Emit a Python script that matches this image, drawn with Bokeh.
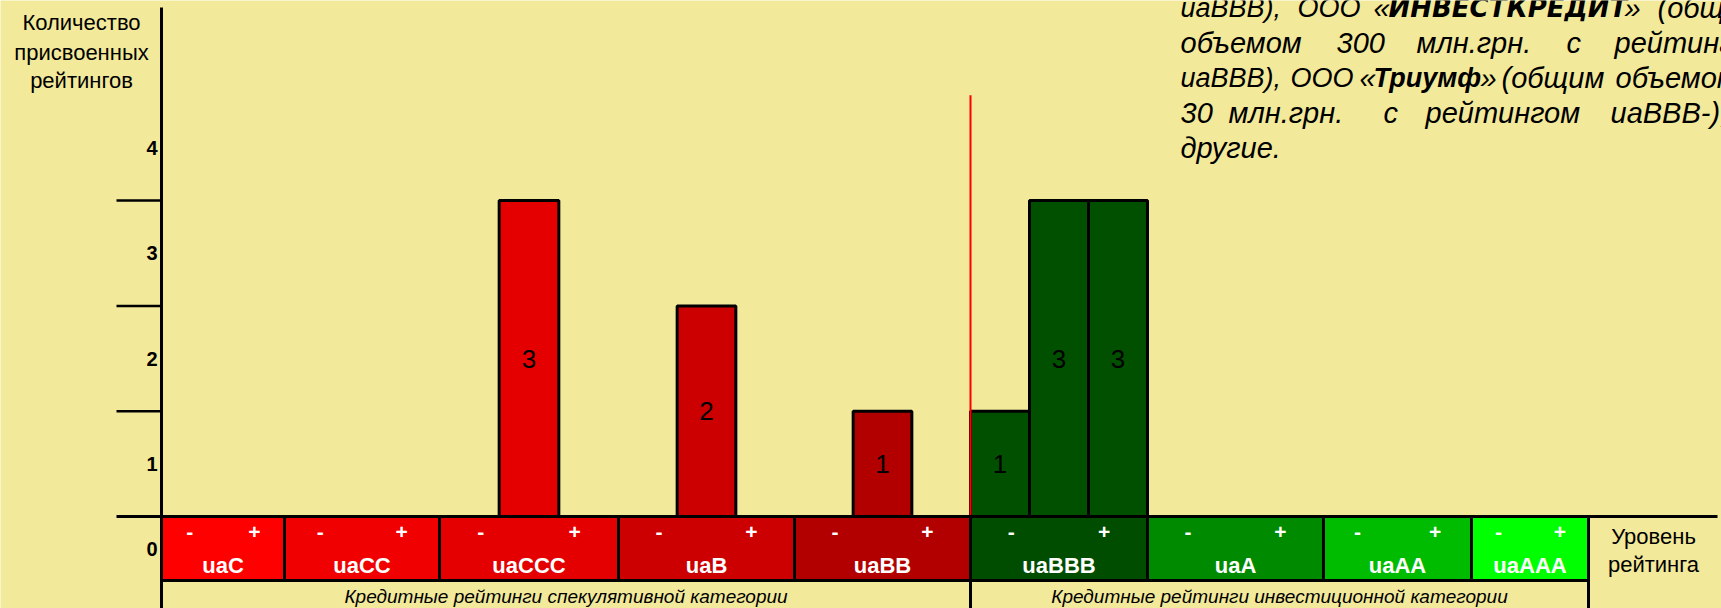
from bokeh.plotting import figure
from bokeh.models import ColumnDataSource, Range1d
from bokeh.core.properties import value
from bokeh.embed import file_html
from bokeh.resources import INLINE

# ---------------- data ----------------
ratings = ["uaC", "uaCC", "uaCCC", "uaB", "uaBB", "uaBBB", "uaA", "uaAA", "uaAAA"]
band_colors = ["#FF0000", "#F00000", "#E40000", "#CC0000", "#B20000",
               "#004D00", "#008A00", "#00BC00", "#00FF00"]
bar_ratings = ["uaCCC", "uaB", "uaBB", "uaBBB-", "uaBBB", "uaBBB+"]
bar_counts = [3, 2, 1, 1, 3, 3]
y_tick_labels = ["0", "1", "2", "3", "4"]
categories = ["Кредитные рейтинги спекулятивной категории",
              "Кредитные рейтинги инвестиционной категории"]
y_title = ["Количество", "присвоенных", "рейтингов"]
x_title = ["Уровень", "рейтинга"]
note_lines = [
    [("uaBBB),", False), ("ООО", False), ("«", False), ("ИНВЕСТКРЕДИТ", True), ("»", False), ("(общим", False)],
    [("объемом", False), ("300", False), ("млн.грн.", False), ("с", False), ("рейтингом", False)],
    [("uaBBB),", False), ("ООО", False), ("«", False), ("Триумф", True), ("»", False), ("(общим", False), ("объемом", False)],
    [("30", False), ("млн.грн.", False), ("с", False), ("рейтингом", False), ("uaBBB-),", False)],
    [("другие.", False)],
]

# ---------------- layout (page pixels) ----------------
W, H = 1721, 608
BG = "#F2E99A"
FONT = "Liberation Sans"
band_edges = [161, 284, 439, 618, 794, 970, 1147, 1323, 1471, 1588]
PX_ZERO, PX_UNIT = 516, 105.3
BAND_BOTTOM = 580
AXIS_X = 161
TICK_LEFT = 116
note_x = [
    [1180, 1297, 1373, 1388, 1624, 1657],
    [1180, 1336, 1416, 1566, 1614],
    [1180, 1290, 1359, 1373, 1480, 1501, 1615],
    [1180, 1228, 1383, 1425, 1610],
    [1180],
]
note_y = [7, 42, 77, 112, 147]
narrow_words = ("uaBBB),", "ООО")

p = figure(width=W, height=H, output_backend="svg", toolbar_location=None,
           x_range=Range1d(0, W),
           y_range=Range1d((PX_ZERO - H) / PX_UNIT, PX_ZERO / PX_UNIT),
           x_axis_type=None, y_axis_type=None, min_border=0)
p.extra_y_ranges = {"px": Range1d(start=H, end=0)}
p.grid.visible = False
p.outline_line_color = None
p.background_fill_color = BG
p.border_fill_color = BG

# rating bands
p.quad(left=band_edges[:-1], right=band_edges[1:], top=PX_ZERO, bottom=BAND_BOTTOM,
       y_range_name="px", fill_color=band_colors, line_color="black", line_width=3)

lefts = band_edges[:-1]
widths = [b - a for a, b in zip(band_edges[:-1], band_edges[1:])]
centers = [a + w / 2 for a, w in zip(lefts, widths)]
p.text(x=centers, y=[565] * len(ratings), text=ratings, y_range_name="px",
       text_font=value(FONT), text_font_style="bold", text_font_size="22px",
       text_color="white", text_align="center", text_baseline="middle")
p.text(x=[a + 0.23 * w for a, w in zip(lefts, widths)], y=[531] * len(ratings),
       text=["-"] * len(ratings), y_range_name="px",
       text_font=value(FONT), text_font_style="bold", text_font_size="21px",
       text_color="white", text_align="center", text_baseline="middle")
p.text(x=[a + 0.755 * w for a, w in zip(lefts, widths)], y=[531] * len(ratings),
       text=["+"] * len(ratings), y_range_name="px",
       text_font=value(FONT), text_font_style="bold", text_font_size="21px",
       text_color="white", text_align="center", text_baseline="middle")

# bars
bl, br, bc, bcol = [], [], [], []
for name in bar_ratings:
    sub = 0 if name.endswith("-") else (2 if name.endswith("+") else 1)
    i = ratings.index(name.rstrip("+-"))
    w = widths[i] / 3
    left = lefts[i] + sub * w
    bl.append(left)
    br.append(left + w)
    bc.append(left + w / 2)
    bcol.append("#005000" if i >= 5 else band_colors[i])
src = ColumnDataSource(dict(left=bl, right=br, top=bar_counts, color=bcol,
                            x=bc, y=[c / 2 for c in bar_counts],
                            label=[str(c) for c in bar_counts]))
p.quad(left="left", right="right", bottom=0, top="top", fill_color="color",
       line_color="black", line_width=3, source=src)
p.text(x="x", y="y", text="label", source=src, text_font=value(FONT),
       text_font_size="26px", text_color="black", text_align="center",
       text_baseline="middle")

# red divider
p.segment(x0=[970], y0=[0], x1=[970], y1=[4], line_color="red", line_width=2)

# axes lines
p.segment(x0=[TICK_LEFT], y0=[0], x1=[1717], y1=[0], line_color="black", line_width=3)
p.segment(x0=[TICK_LEFT] * 3, y0=[1, 2, 3], x1=[AXIS_X] * 3, y1=[1, 2, 3],
          line_color="black", line_width=2.5)
p.segment(x0=[AXIS_X, 1588, 970], y0=[7, PX_ZERO, BAND_BOTTOM],
          x1=[AXIS_X, 1588, 970], y1=[H, H, H],
          y_range_name="px", line_color="black", line_width=3)

# y tick labels
p.text(x=[157] * 4, y=[0.5, 1.5, 2.5, 3.5], text=y_tick_labels[1:],
       text_font=value(FONT), text_font_style="bold", text_font_size="20px",
       text_color="black", text_align="right", text_baseline="middle")
p.text(x=[157], y=[548], text=y_tick_labels[:1], y_range_name="px",
       text_font=value(FONT), text_font_style="bold", text_font_size="20px",
       text_color="black", text_align="right", text_baseline="middle")

# axis titles
p.text(x=[81] * 3, y=[22, 52, 80], text=y_title, y_range_name="px",
       text_font=value(FONT), text_font_size="22px", text_color="black",
       text_align="center", text_baseline="middle")
p.text(x=[1653] * 2, y=[536, 564], text=x_title, y_range_name="px",
       text_font=value(FONT), text_font_size="22px", text_color="black",
       text_align="center", text_baseline="middle")

# category labels
p.text(x=[(AXIS_X + 970) / 2, (970 + 1588) / 2], y=[596, 596], text=categories,
       y_range_name="px", text_font=value(FONT), text_font_style="italic",
       text_font_size="19px", text_color="black", text_align="center",
       text_baseline="middle")

# note text (top right)
for line, xs, y in zip(note_lines, note_x, note_y):
    for (word, bold), x in zip(line, xs):
        if bold and len(word) > 8:
            fnt, size = "DejaVu Sans", "26px"
        elif bold:
            fnt, size = FONT, "27px"
        elif word in narrow_words:
            fnt, size = FONT, "27px"
        else:
            fnt, size = FONT, "29px"
        p.text(x=[x], y=[y], text=[word], y_range_name="px",
               text_font=value(fnt),
               text_font_style="bold italic" if bold else "italic",
               text_font_size=size, text_color="black", text_align="left",
               text_baseline="middle")

open("out.html", "w").write(file_html(p, INLINE))
